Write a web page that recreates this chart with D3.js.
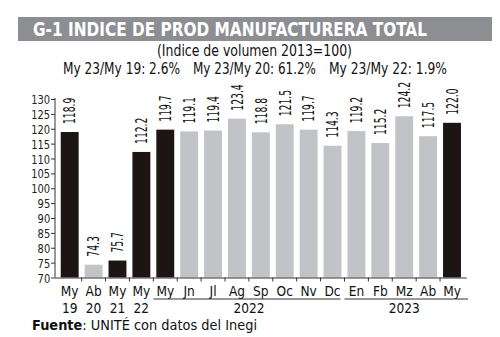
<!DOCTYPE html>
<html><head><meta charset="utf-8">
<script src="https://cdn.jsdelivr.net/npm/d3@7"></script>
<style>
body{margin:0;background:#fff;}
text{font-family:"DejaVu Sans Condensed","Liberation Sans Narrow","Roboto",sans-serif;}
</style></head>
<body>
<svg id="c" width="500" height="337"></svg>
<script>
const months = ["My","Ab","My","My","My","Jn","Jl","Ag","Sp","Oc","Nv","Dc","En","Fb","Mz","Ab","My"];
const yearsRow = ["19","20","21","22","","","","","","","","","","","","",""];
const values = [118.9,74.3,75.7,112.2,119.7,119.1,119.4,123.4,118.8,121.5,119.7,114.3,119.2,115.2,124.2,117.5,122.0];
const highlight = [1,0,1,1,1,0,0,0,0,0,0,0,0,0,0,0,1];
const yearGroups = [{label:"2022",from:4,to:11},{label:"2023",from:12,to:16}];
const yTicks = [70,75,80,85,90,95,100,105,110,115,120,125,130];
const title = "G-1  INDICE DE PROD MANUFACTURERA TOTAL";
const subtitle1 = "(Indice de volumen 2013=100)";
const comparisons = ["My 23/My 19: 2.6%","My 23/My 20: 61.2%","My 23/My 22: 1.9%"];

const svg = d3.select("#c");
const DARK = "#1c1514", GRAY = "#c1c3c7";

// title bar
svg.append("rect").attr("x",18).attr("y",17).attr("width",474).attr("height",24).attr("fill","#8d8e92");
svg.append("text").attr("x",33).attr("y",36).attr("fill","#fff").attr("font-weight","bold")
  .attr("font-size",19).attr("textLength",394).attr("lengthAdjust","spacingAndGlyphs").text(title);
svg.append("text").attr("x",157).attr("y",56).attr("font-size",16).attr("fill","#111")
  .attr("textLength",195).attr("lengthAdjust","spacingAndGlyphs").text(subtitle1);
const compPos = [[63,117],[193,123],[329,118]];
comparisons.forEach((c,i)=>{
  svg.append("text").attr("x",compPos[i][0]).attr("y",74).attr("font-size",16).attr("fill","#111")
    .attr("textLength",compPos[i][1]).attr("lengthAdjust","spacingAndGlyphs").text(c);
});

const x = d3.scaleBand().domain(d3.range(values.length)).range([55,466.7]).paddingInner(0.25).paddingOuter(0.24);
const y = d3.scaleLinear().domain([70,130]).range([277.5,99]);

// y axis
const ya = svg.append("g").attr("transform","translate(55,0)")
  .call(d3.axisLeft(y).tickValues(yTicks).tickSize(4).tickPadding(2));
ya.select(".domain").attr("stroke","#333").attr("d","M0,"+y(70)+"V"+(y(130)-1));
ya.selectAll(".tick line").attr("stroke","#333");
ya.selectAll(".tick text").attr("font-size",12.5).attr("fill","#222")
  .attr("x",-5.5).attr("transform","scale(0.88,1)").attr("dy","0.36em");

// bars
svg.append("g").selectAll("rect").data(values).join("rect")
  .attr("x",(d,i)=>x(i)).attr("width",x.bandwidth())
  .attr("y",d=>y(d)).attr("height",d=>y(70)-y(d))
  .attr("fill",(d,i)=>highlight[i]?DARK:GRAY);

// value labels
svg.append("g").selectAll("text").data(values).join("text")
  .attr("transform",(d,i)=>`translate(${x(i)+x.bandwidth()/2},${y(d)-8}) rotate(-90) scale(0.64,1)`)
  .attr("dy","0.36em").attr("font-size",16).attr("fill","#111")
  .text(d=>d.toFixed(1));

// x axis baseline and ticks
const xa = svg.append("g");
xa.append("line").attr("x1",55).attr("x2",466.7).attr("y1",y(70)+0.5).attr("y2",y(70)+0.5).attr("stroke","#333");
const bounds = d3.range(1,values.length).map(i=>x(i)-(x.step()-x.bandwidth())/2);
xa.selectAll("line.t").data(bounds).join("line").attr("class","t")
  .attr("x1",d=>d).attr("x2",d=>d).attr("y1",y(70)).attr("y2",y(70)+4).attr("stroke","#333");

// month labels
svg.append("g").selectAll("text").data(months).join("text")
  .attr("transform",(d,i)=>`translate(${x(i)+x.bandwidth()/2},296) scale(0.97,1)`).attr("text-anchor","middle")
  .attr("font-size",14).attr("fill","#111").text(d=>d);
const yrs = yearsRow.map((d,i)=>({d,i})).filter(o=>o.d!=="");
svg.append("g").selectAll("text").data(yrs).join("text")
  .attr("transform",o=>`translate(${x(o.i)+x.bandwidth()/2},312.5) scale(0.97,1)`).attr("text-anchor","middle")
  .attr("font-size",14).attr("fill","#111").text(o=>o.d);

// year groups
yearGroups.forEach((g,k)=>{
  const x1 = x(g.from)-3, x2 = x(g.to)+x.bandwidth()+(k===1?7:-1);
  svg.append("line").attr("x1",x1).attr("x2",x2).attr("y1",299).attr("y2",299).attr("stroke","#333").attr("stroke-width",1);
  svg.append("text").attr("transform",`translate(${(x(g.from)+x(g.to)+x.bandwidth())/2},312.5) scale(0.97,1)`).attr("text-anchor","middle")
    .attr("font-size",14).attr("fill","#111").text(g.label);
});

// source
const src = svg.append("text").attr("x",32).attr("y",329.5).attr("font-size",14).attr("fill","#111")
  .attr("textLength",225).attr("lengthAdjust","spacingAndGlyphs");
src.append("tspan").attr("font-weight","bold").text("Fuente");
src.append("tspan").text(": UNITÉ con datos del Inegi");
</script>
</body></html>
